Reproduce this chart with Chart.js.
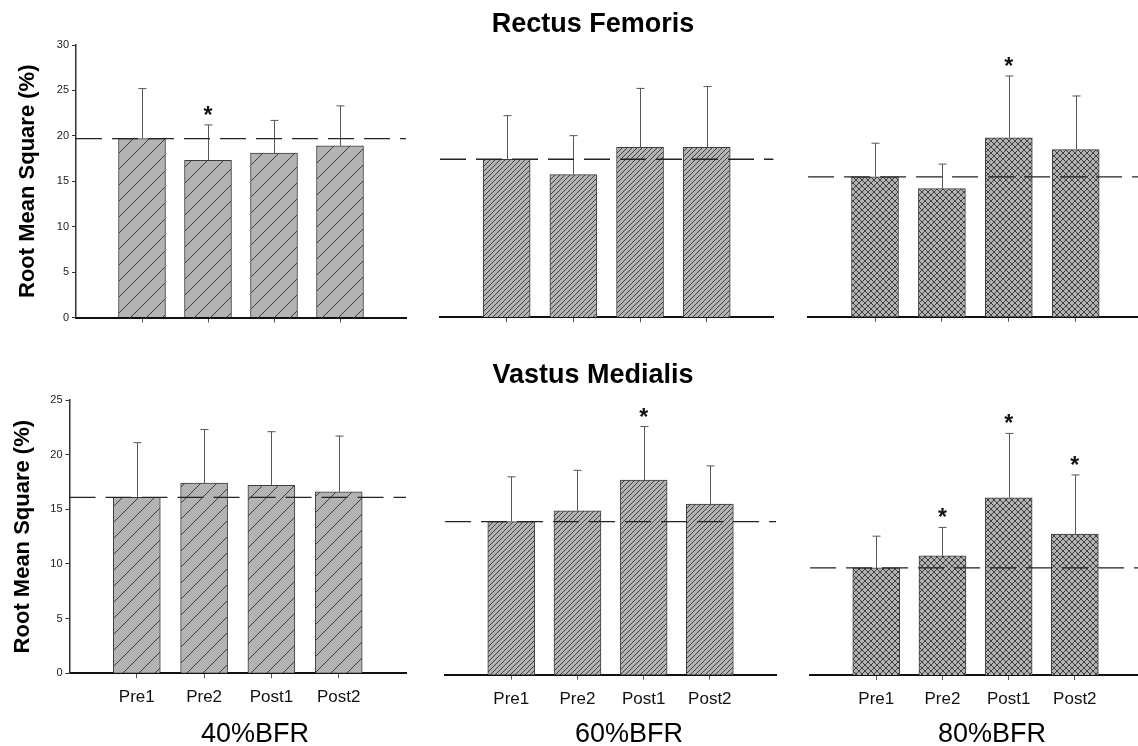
<!DOCTYPE html>
<html>
<head>
    <title>Root Mean Square by BFR level</title>
    <script src="https://cdn.jsdelivr.net/npm/chart.js"></script>
    <style>
        body {
            margin: 0;
            width: 1138px;
            height: 746px;
            overflow: hidden;
            position: relative;
            background: #fff;
            font-family: 'Liberation Sans', Arial, sans-serif;
            color: #000;
        }
        canvas { position: absolute; }
        .muscle {
            position: absolute;
            font-weight: bold;
            font-size: 27px;
            line-height: 27px;
            white-space: nowrap;
            transform: translateX(-50%);
            z-index: 2;
        }
        .group {
            position: absolute;
            font-size: 27px;
            line-height: 27px;
            white-space: nowrap;
            transform: translateX(-50%);
            z-index: 2;
        }
    </style>
</head>
<body>
    <div class="muscle" id="m0" style="left:593px; top:10px;"></div>
    <div class="muscle" id="m1" style="left:593px; top:361px;"></div>
    <div class="group" id="g0" style="left:255px; top:720px;"></div>
    <div class="group" id="g1" style="left:629px; top:720px;"></div>
    <div class="group" id="g2" style="left:992px; top:720px;"></div>

    <canvas id="rf40"></canvas>
    <canvas id="rf60"></canvas>
    <canvas id="rf80"></canvas>
    <canvas id="vm40"></canvas>
    <canvas id="vm60"></canvas>
    <canvas id="vm80"></canvas>

    <script>
const phases = ['Pre1', 'Pre2', 'Post1', 'Post2'];
const groups = ['40%BFR', '60%BFR', '80%BFR'];
const muscles = ['Rectus Femoris', 'Vastus Medialis'];
const yTitle = 'Root Mean Square (%)';

const rfTicks = [0, 5, 10, 15, 20, 25, 30];
const vmTicks = [0, 5, 10, 15, 20, 25];

// rectus femoris: means and upper SD
const rf40Mean = [19.7, 17.3, 18.1, 18.9];
const rf40Sd = [5.5, 3.9, 3.6, 4.4];
const rf40Star = [false, true, false, false];
const rf60Mean = [17.4, 15.7, 18.7, 18.7];
const rf60Sd = [4.8, 4.3, 6.5, 6.7];
const rf60Star = [false, false, false, false];
const rf80Mean = [15.4, 14.1, 19.7, 18.4];
const rf80Sd = [3.7, 2.7, 6.8, 5.9];
const rf80Star = [false, false, true, false];

// vastus medialis
const vm40Mean = [16.1, 17.4, 17.2, 16.6];
const vm40Sd = [5.0, 4.9, 4.9, 5.1];
const vm40Star = [false, false, false, false];
const vm60Mean = [14.0, 15.0, 17.8, 15.6];
const vm60Sd = [4.1, 3.7, 4.9, 3.5];
const vm60Star = [false, false, true, false];
const vm80Mean = [9.8, 10.9, 16.2, 12.9];
const vm80Sd = [2.9, 2.6, 5.9, 5.4];
const vm80Star = [false, true, true, true];

const FONT = "'Liberation Sans', Arial, sans-serif";

document.getElementById('m0').textContent = muscles[0];
document.getElementById('m1').textContent = muscles[1];
groups.forEach((g, i) => document.getElementById('g' + i).textContent = g);

// box = canvas [left, top, width, height], area = chart area [l, t, r, b] in page px
const panels = [
    { id: 'rf40', mean: rf40Mean, sd: rf40Sd, star: rf40Star, hatch: 'sparse', ticks: rfTicks,
      box: [0, 0, 420, 335], area: [76, 45, 406, 317.5], yAxis: true, xLabels: false, titlePad: 15 },
    { id: 'rf60', mean: rf60Mean, sd: rf60Sd, star: rf60Star, hatch: 'dense', ticks: rfTicks,
      box: [425, 0, 355, 335], area: [440, 44.8, 773.4, 317.3], yAxis: false, xLabels: false },
    { id: 'rf80', mean: rf80Mean, sd: rf80Sd, star: rf80Star, hatch: 'cross', ticks: rfTicks,
      box: [790, 0, 360, 335], area: [808.1, 44.2, 1142.6, 316.7], yAxis: false, xLabels: false },
    { id: 'vm40', mean: vm40Mean, sd: vm40Sd, star: vm40Star, hatch: 'sparse', ticks: vmTicks,
      box: [0, 380, 420, 340], area: [69.5, 400, 406, 673.3], yAxis: true, xLabels: true, titlePad: 10 },
    { id: 'vm60', mean: vm60Mean, sd: vm60Sd, star: vm60Star, hatch: 'dense', ticks: vmTicks,
      box: [425, 380, 360, 340], area: [445.1, 401.4, 779.6, 674.7], yAxis: false, xLabels: true },
    { id: 'vm80', mean: vm80Mean, sd: vm80Sd, star: vm80Star, hatch: 'cross', ticks: vmTicks,
      box: [790, 380, 360, 340], area: [810.1, 401.7, 1144.6, 675], yAxis: false, xLabels: true }
];

function makePattern(ctx, kind) {
    const s = kind === 'sparse' ? 16 : kind === 'dense' ? 5 : 6;
    const tile = document.createElement('canvas');
    tile.width = s;
    tile.height = s;
    const g = tile.getContext('2d');
    g.fillStyle = '#b3b3b3';
    g.fillRect(0, 0, s, s);
    g.strokeStyle = kind === 'sparse' ? '#3a3a3a' : '#3f3f3f';
    g.lineWidth = 1;
    g.beginPath();
    for (const o of [-s, 0, s]) {
        g.moveTo(o, s);
        g.lineTo(o + s, 0);
        if (kind === 'cross') {
            g.moveTo(o, 0);
            g.lineTo(o + s, s);
        }
    }
    g.stroke();
    return ctx.createPattern(tile, 'repeat');
}

function markers(p) {
    return {
        id: 'markers_' + p.id,
        afterDatasetsDraw(chart) {
            const { ctx, chartArea } = chart;
            const y = chart.scales.y;
            const bars = chart.getDatasetMeta(0).data;
            ctx.save();
            // upper error bars
            ctx.strokeStyle = '#555';
            ctx.lineWidth = 1;
            p.mean.forEach((m, i) => {
                const bar = bars[i + 1];
                const x = Math.round(bar.x) + 0.5;
                const top = y.getPixelForValue(m + p.sd[i]);
                ctx.beginPath();
                ctx.moveTo(x, bar.y);
                ctx.lineTo(x, top);
                ctx.moveTo(x - 4, top);
                ctx.lineTo(x + 4, top);
                ctx.stroke();
                if (p.star[i]) {
                    ctx.fillStyle = '#111';
                    ctx.font = 'bold 23px ' + FONT;
                    ctx.textAlign = 'center';
                    ctx.textBaseline = 'alphabetic';
                    ctx.fillText('*', bar.x, top - 2);
                }
            });
            // dashed reference at Pre1
            const yb = y.getPixelForValue(p.mean[0]);
            ctx.setLineDash([26, 10]);
            ctx.strokeStyle = '#222';
            ctx.lineWidth = 1.3;
            ctx.beginPath();
            ctx.moveTo(chartArea.left, yb);
            ctx.lineTo(chartArea.right, yb);
            ctx.stroke();
            ctx.restore();
        }
    };
}

panels.forEach(p => {
    const canvas = document.getElementById(p.id);
    const [bl, bt, bw, bh] = p.box;
    const [al, at, ar, ab] = p.area;
    canvas.width = bw;
    canvas.height = bh;
    canvas.style.left = bl + 'px';
    canvas.style.top = bt + 'px';
    const ctx = canvas.getContext('2d');

    const yWidth = p.yAxis ? al - bl : 0;
    const xHeight = bt + bh - ab;

    new Chart(ctx, {
        type: 'bar',
        data: {
            labels: ['', ...phases, ''],
            datasets: [{
                data: [null, ...p.mean, null],
                backgroundColor: makePattern(ctx, p.hatch),
                borderColor: '#3c3c3c',
                borderWidth: 1,
                barThickness: 47
            }]
        },
        options: {
            responsive: false,
            animation: false,
            events: [],
            layout: {
                padding: {
                    left: p.yAxis ? 0 : al - bl,
                    top: at - bt,
                    right: bl + bw - ar,
                    bottom: 0
                }
            },
            plugins: {
                legend: { display: false },
                tooltip: { enabled: false }
            },
            scales: {
                x: {
                    offset: false,
                    afterFit(s) { s.height = xHeight; },
                    border: { display: true, color: '#111', width: 2 },
                    grid: {
                        offset: false,
                        drawOnChartArea: false,
                        drawTicks: true,
                        tickLength: 5,
                        tickColor: c => (c.index === 0 || c.index === phases.length + 1) ? 'rgba(0,0,0,0)' : '#555'
                    },
                    ticks: {
                        display: p.xLabels,
                        autoSkip: false,
                        maxRotation: 0,
                        padding: 9,
                        color: '#111',
                        font: { family: FONT, size: 17 }
                    }
                },
                y: {
                    display: p.yAxis,
                    min: p.ticks[0],
                    max: p.ticks[p.ticks.length - 1],
                    afterBuildTicks(s) { s.ticks = p.ticks.map(v => ({ value: v })); },
                    afterFit(s) { s.width = yWidth; },
                    border: { display: true, color: '#333', width: 1.5 },
                    grid: {
                        drawOnChartArea: false,
                        drawTicks: true,
                        tickLength: 4,
                        color: '#333'
                    },
                    ticks: {
                        padding: 3,
                        color: '#222',
                        font: { family: FONT, size: 11 }
                    },
                    title: {
                        display: p.yAxis,
                        text: yTitle,
                        color: '#000',
                        padding: { top: p.titlePad || 0, bottom: 0 },
                        font: { family: FONT, size: 22, weight: 'bold' }
                    }
                }
            }
        },
        plugins: [markers(p)]
    });
});
    </script>
</body>
</html>
